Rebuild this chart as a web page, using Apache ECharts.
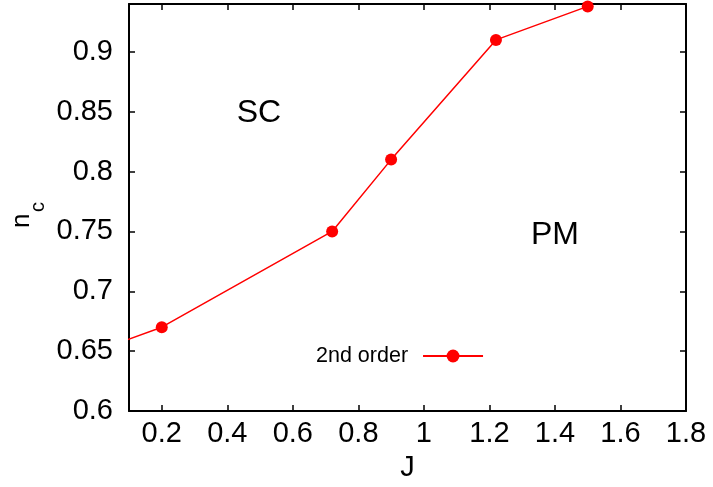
<!DOCTYPE html>
<html>
<head>
<meta charset="utf-8">
<script src="https://cdn.jsdelivr.net/npm/echarts@6/dist/echarts.min.js"></script>
<style>
  html, body { margin: 0; padding: 0; background: #fff; overflow: hidden; }
  #chart { width: 713px; height: 487px; }
</style>
</head>
<body>
<div id="chart"></div>
<script>
// Critical density n_c of the SC / PM boundary versus coupling J
const J = [0.0, 0.2, 0.72, 0.9, 1.22, 1.5];
const nc = [0.65, 0.67, 0.75, 0.81, 0.91, 0.938];
const seriesName = '2nd order';
const xRange = [0.1, 1.8];
const yRange = [0.6, 0.94];
const yStep = 0.05;
const regionLabels = ['SC', 'PM'];

const FONT = '"Liberation Sans", Arial, Helvetica, sans-serif';
const RED = '#ff0000';

const points = J.map((x, i) => [x, nc[i]]);

const chart = echarts.init(document.getElementById('chart'), null, { renderer: 'canvas' });

const axisLine = { show: true, lineStyle: { color: '#000', width: 2 } };
const tickStyle = { show: true, inside: true, length: 6, lineStyle: { color: '#000', width: 1.5 } };

chart.setOption({
  animation: false,
  backgroundColor: '#fff',
  grid: { left: 129, top: 4, width: 557, height: 412, containLabel: false },
  xAxis: [
    {
      type: 'value', position: 'bottom',
      min: xRange[0], max: xRange[1], splitNumber: 8,
      name: 'J', nameLocation: 'middle', nameGap: 42,
      nameTextStyle: { fontFamily: FONT, fontSize: 29, color: '#000' },
      axisLine: axisLine, axisTick: tickStyle, splitLine: { show: false },
      axisLabel: {
        fontFamily: FONT, fontSize: 29, color: '#000', margin: 8,
        showMinLabel: false,
        formatter: v => (Math.abs(v - xRange[0]) < 1e-9 ? '' : String(+v.toFixed(2)))
      }
    },
    {
      type: 'value', position: 'top',
      min: xRange[0], max: xRange[1], splitNumber: 8,
      axisLine: axisLine, axisTick: tickStyle, splitLine: { show: false },
      axisLabel: { show: false }
    }
  ],
  yAxis: [
    {
      type: 'value', position: 'left',
      min: yRange[0], max: yRange[1], interval: yStep,
      axisLine: axisLine, axisTick: tickStyle, splitLine: { show: false },
      axisLabel: {
        fontFamily: FONT, fontSize: 29, color: '#000', margin: 16,
        showMaxLabel: false,
        formatter: v => (Math.abs(v - yRange[1]) < 1e-9 ? '' : String(+v.toFixed(2)))
      }
    },
    {
      type: 'value', position: 'right',
      min: yRange[0], max: yRange[1], interval: yStep,
      axisLine: axisLine, axisTick: tickStyle, splitLine: { show: false },
      axisLabel: { show: false }
    }
  ],
  legend: {
    left: 316, top: 345, padding: 0,
    align: 'right', orient: 'vertical',
    itemWidth: 60, itemHeight: 16,
    textStyle: { fontFamily: FONT, fontSize: 21.5, color: '#000', padding: [0, 10, 0, 0] },
    data: [seriesName]
  },
  graphic: [
    {
      type: 'text',
      style: { text: regionLabels[0], font: '32px ' + FONT, fill: '#000', align: 'center', verticalAlign: 'middle' },
      x: 259, y: 113
    },
    {
      type: 'text',
      style: { text: regionLabels[1], font: '32px ' + FONT, fill: '#000', align: 'center', verticalAlign: 'middle' },
      x: 555, y: 235
    },
    {
      type: 'group', x: 22, y: 228, rotation: Math.PI / 2,
      children: [
        { type: 'text', x: 0, y: 0,
          style: { text: 'n', font: '26px ' + FONT, fill: '#000', align: 'left', verticalAlign: 'middle' } },
        { type: 'text', x: 16, y: 16,
          style: { text: 'c', font: '20px ' + FONT, fill: '#000', align: 'left', verticalAlign: 'middle' } }
      ]
    }
  ],
  series: [
    {
      name: seriesName,
      type: 'line',
      data: points,
      clip: true,
      symbol: 'circle',
      symbolSize: 12,
      itemStyle: { color: RED },
      lineStyle: { color: RED, width: 1.5 }
    }
  ]
});
</script>
</body>
</html>
